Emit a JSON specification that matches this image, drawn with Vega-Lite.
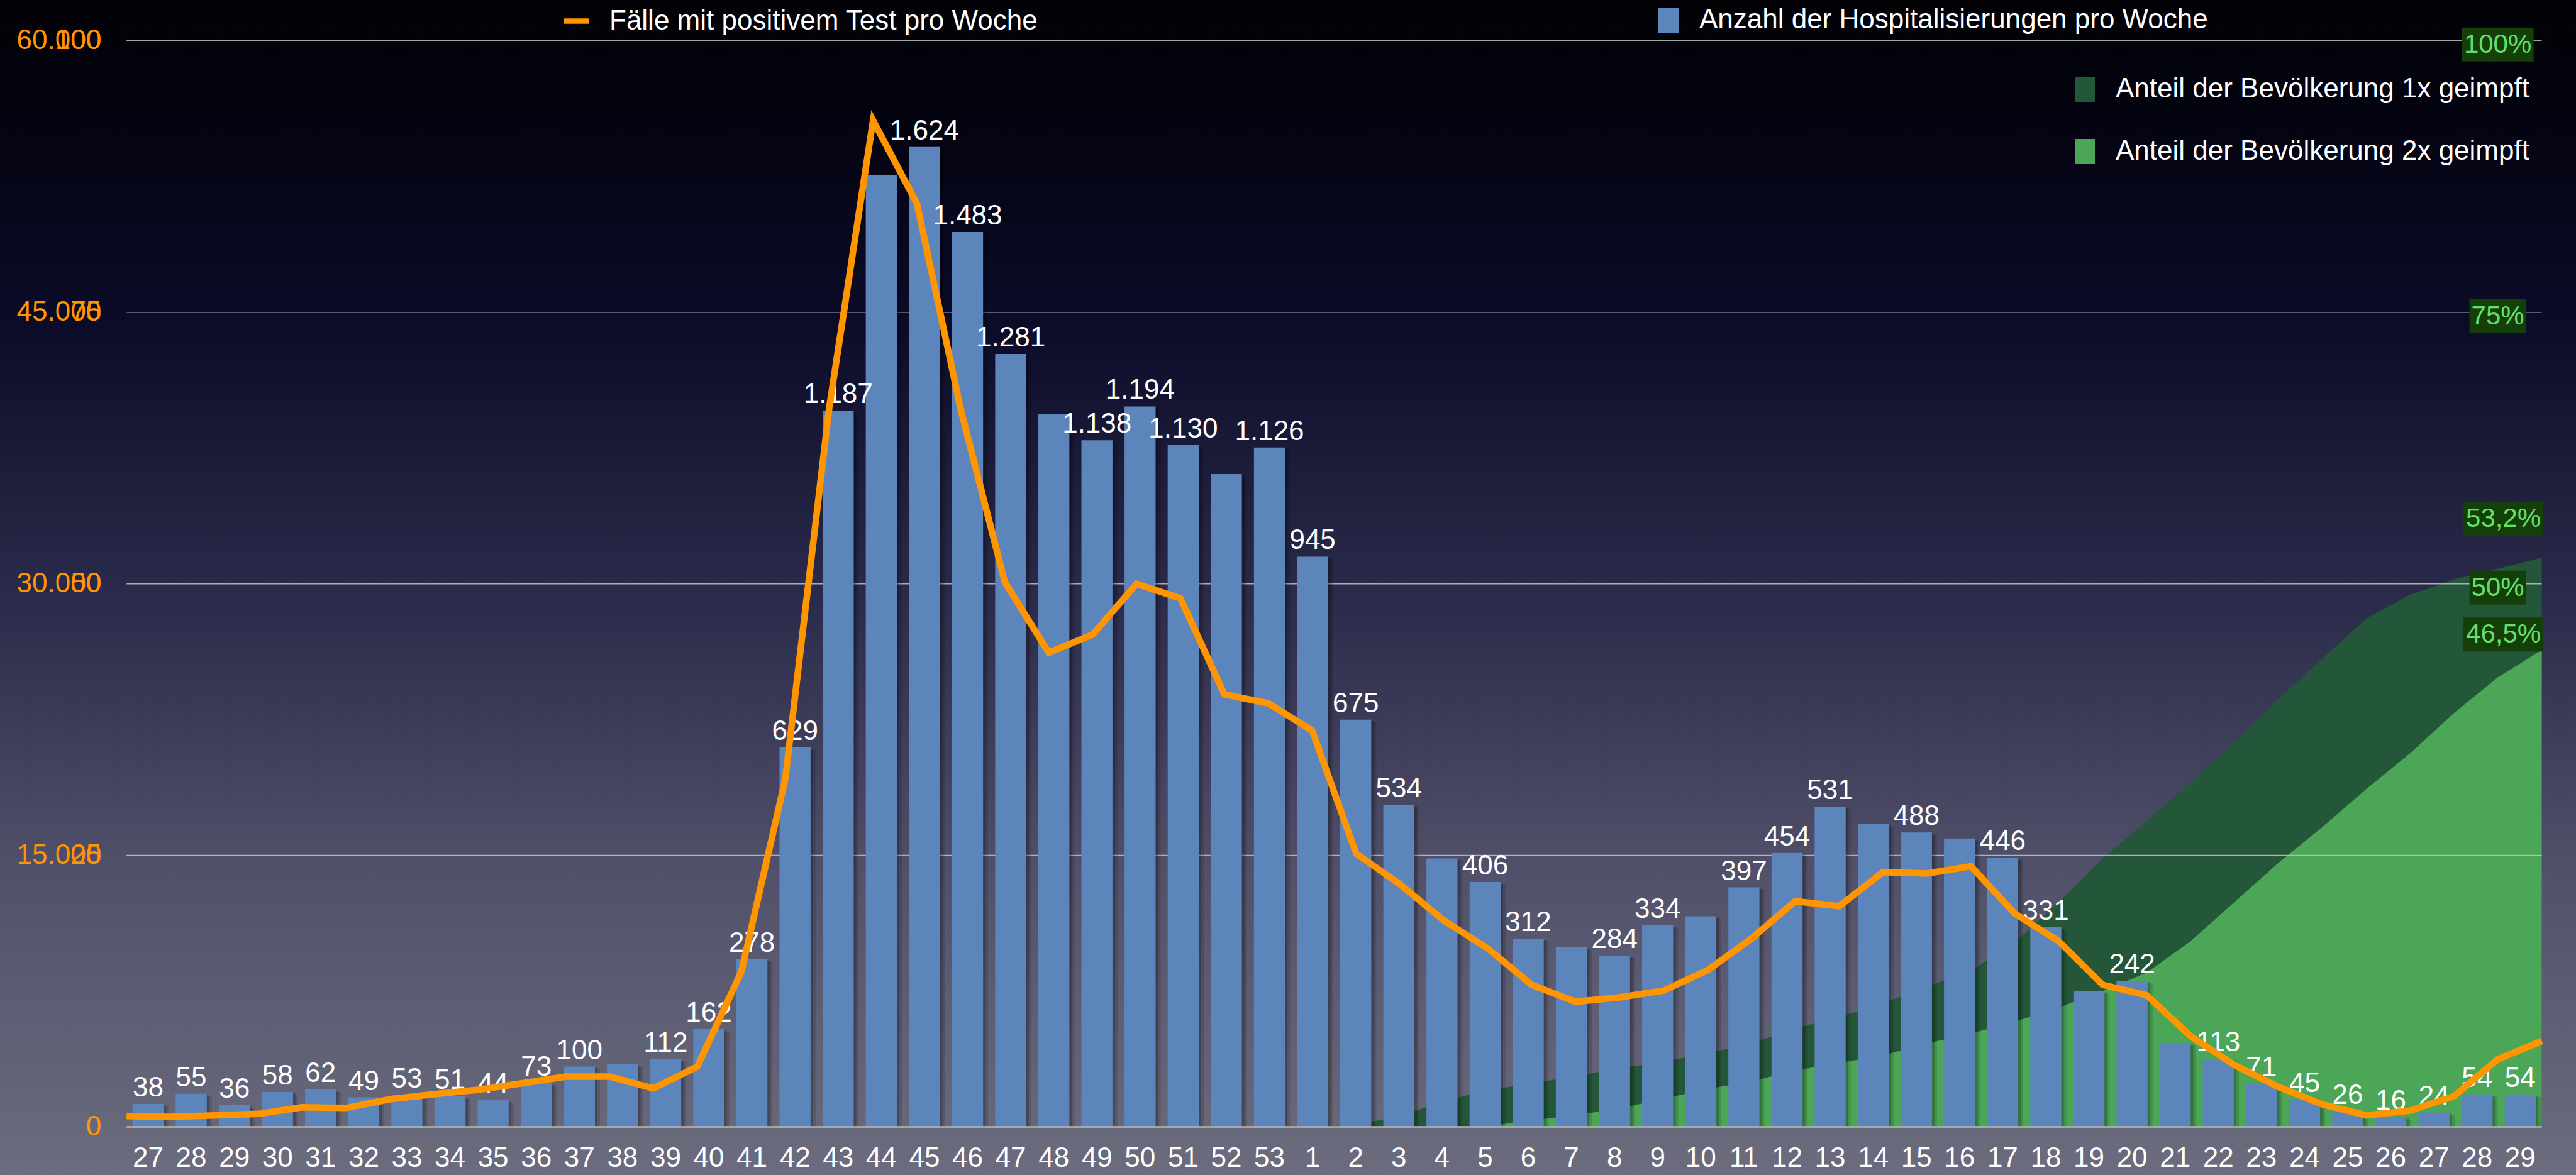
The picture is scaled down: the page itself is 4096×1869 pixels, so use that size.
{
  "$schema": "https://vega.github.io/schema/vega-lite/v6.json",
  "width": 4096,
  "height": 1869,
  "padding": 0,
  "autosize": {"type": "none"},
  "background": "#000000",
  "config": {
    "font": "Liberation Sans",
    "view": {"stroke": null},
    "locale": {"number": {"decimal": ",", "thousands": ".", "grouping": [3], "currency": ["", " €"]}}
  },
  "datasets": {
    "wochen": [
      {"id": "20-27", "hosp": 38, "faelle": 600, "erst": 0, "zweit": 0},
      {"id": "20-28", "hosp": 55, "faelle": 560, "erst": 0, "zweit": 0},
      {"id": "20-29", "hosp": 36, "faelle": 640, "erst": 0, "zweit": 0},
      {"id": "20-30", "hosp": 58, "faelle": 720, "erst": 0, "zweit": 0},
      {"id": "20-31", "hosp": 62, "faelle": 1090, "erst": 0, "zweit": 0},
      {"id": "20-32", "hosp": 49, "faelle": 1050, "erst": 0, "zweit": 0},
      {"id": "20-33", "hosp": 53, "faelle": 1530, "erst": 0, "zweit": 0},
      {"id": "20-34", "hosp": 51, "faelle": 1810, "erst": 0, "zweit": 0},
      {"id": "20-35", "hosp": 44, "faelle": 2050, "erst": 0, "zweit": 0},
      {"id": "20-36", "hosp": 73, "faelle": 2410, "erst": 0, "zweit": 0},
      {"id": "20-37", "hosp": 100, "faelle": 2780, "erst": 0, "zweit": 0},
      {"id": "20-38", "hosp": 104, "faelle": 2780, "erst": 0, "zweit": 0},
      {"id": "20-39", "hosp": 112, "faelle": 2130, "erst": 0, "zweit": 0},
      {"id": "20-40", "hosp": 162, "faelle": 3340, "erst": 0, "zweit": 0},
      {"id": "20-41", "hosp": 278, "faelle": 8570, "erst": 0, "zweit": 0},
      {"id": "20-42", "hosp": 629, "faelle": 19200, "erst": 0, "zweit": 0},
      {"id": "20-43", "hosp": 1187, "faelle": 39700, "erst": 0, "zweit": 0},
      {"id": "20-44", "hosp": 1577, "faelle": 55600, "erst": 0, "zweit": 0},
      {"id": "20-45", "hosp": 1624, "faelle": 51000, "erst": 0, "zweit": 0},
      {"id": "20-46", "hosp": 1483, "faelle": 39600, "erst": 0, "zweit": 0},
      {"id": "20-47", "hosp": 1281, "faelle": 30100, "erst": 0, "zweit": 0},
      {"id": "20-48", "hosp": 1182, "faelle": 26200, "erst": 0, "zweit": 0},
      {"id": "20-49", "hosp": 1138, "faelle": 27200, "erst": 0, "zweit": 0},
      {"id": "20-50", "hosp": 1194, "faelle": 30000, "erst": 0, "zweit": 0},
      {"id": "20-51", "hosp": 1130, "faelle": 29200, "erst": 0, "zweit": 0},
      {"id": "20-52", "hosp": 1082, "faelle": 23900, "erst": 0, "zweit": 0},
      {"id": "20-53", "hosp": 1126, "faelle": 23400, "erst": 0, "zweit": 0},
      {"id": "21-01", "hosp": 945, "faelle": 21900, "erst": 0, "zweit": 0},
      {"id": "21-02", "hosp": 675, "faelle": 15100, "erst": 0.2, "zweit": 0},
      {"id": "21-03", "hosp": 534, "faelle": 13400, "erst": 1.0, "zweit": 0},
      {"id": "21-04", "hosp": 445, "faelle": 11400, "erst": 2.4, "zweit": 0},
      {"id": "21-05", "hosp": 406, "faelle": 9860, "erst": 3.4, "zweit": 0.1},
      {"id": "21-06", "hosp": 312, "faelle": 7850, "erst": 4.0, "zweit": 0.6},
      {"id": "21-07", "hosp": 298, "faelle": 6920, "erst": 4.7, "zweit": 1.1},
      {"id": "21-08", "hosp": 284, "faelle": 7160, "erst": 5.4, "zweit": 1.7},
      {"id": "21-09", "hosp": 334, "faelle": 7530, "erst": 6.0, "zweit": 2.6},
      {"id": "21-10", "hosp": 349, "faelle": 8650, "erst": 6.8, "zweit": 3.5},
      {"id": "21-11", "hosp": 397, "faelle": 10400, "erst": 7.7, "zweit": 4.2},
      {"id": "21-12", "hosp": 454, "faelle": 12470, "erst": 9.1, "zweit": 5.2},
      {"id": "21-13", "hosp": 531, "faelle": 12190, "erst": 10.1, "zweit": 5.9},
      {"id": "21-14", "hosp": 502, "faelle": 14080, "erst": 11.4, "zweit": 6.6},
      {"id": "21-15", "hosp": 488, "faelle": 14000, "erst": 12.9, "zweit": 7.7},
      {"id": "21-16", "hosp": 478, "faelle": 14400, "erst": 14.4, "zweit": 8.6},
      {"id": "21-17", "hosp": 446, "faelle": 11790, "erst": 17.0, "zweit": 9.7},
      {"id": "21-18", "hosp": 331, "faelle": 10260, "erst": 20.7, "zweit": 11.0},
      {"id": "21-19", "hosp": 225, "faelle": 7850, "erst": 24.7, "zweit": 12.5},
      {"id": "21-20", "hosp": 242, "faelle": 7280, "erst": 28.2, "zweit": 14.2},
      {"id": "21-21", "hosp": 139, "faelle": 5030, "erst": 31.7, "zweit": 17.1},
      {"id": "21-22", "hosp": 113, "faelle": 3420, "erst": 35.4, "zweit": 20.7},
      {"id": "21-23", "hosp": 71, "faelle": 2210, "erst": 39.4, "zweit": 24.3},
      {"id": "21-24", "hosp": 45, "faelle": 1250, "erst": 43.1, "zweit": 27.6},
      {"id": "21-25", "hosp": 26, "faelle": 640, "erst": 46.8, "zweit": 31.1},
      {"id": "21-26", "hosp": 16, "faelle": 900, "erst": 49.0, "zweit": 34.4},
      {"id": "21-27", "hosp": 24, "faelle": 1700, "erst": 50.4, "zweit": 38.1},
      {"id": "21-28", "hosp": 54, "faelle": 3740, "erst": 51.4, "zweit": 41.4},
      {"id": "21-29", "hosp": 54, "faelle": 4750, "erst": 52.4, "zweit": 43.9}
    ],
    "marken": [
      {"wert": 100, "label": "100%", "art": "achse"},
      {"wert": 75, "label": "75%", "art": "achse"},
      {"wert": 50, "label": "50%", "art": "achse"},
      {"wert": 53.2, "label": "53,2%", "art": "erst"},
      {"wert": 46.5, "label": "46,5%", "art": "zweit"}
    ]
  },
  "resolve": {"scale": {"x": "independent", "y": "independent", "color": "independent", "shape": "independent"}},
  "layer": [
    {
      "data": {"values": [{}]},
      "mark": {
        "type": "rect",
        "color": {
          "gradient": "linear", "x1": 0, "y1": 0, "x2": 0, "y2": 1,
          "stops": [
            {"offset": 0, "color": "#020206"},
            {"offset": 0.1, "color": "#030310"},
            {"offset": 0.28, "color": "#0c0c2a"},
            {"offset": 0.52, "color": "#2c2c4c"},
            {"offset": 0.744, "color": "#51516b"},
            {"offset": 1, "color": "#6c6c7e"}
          ]
        }
      },
      "encoding": {}
    },
    {
      "data": {"name": "wochen"},
      "layer": [
        {
          "mark": {"type": "area", "opacity": 1},
          "encoding": {
            "x": {"field": "id", "type": "ordinal", "scale": {"type": "point", "padding": 0, "range": [201.2, 4041.6], "round": false}, "axis": null},
            "y": {"field": "erst", "type": "quantitative", "scale": {"domain": [-4.42, 103.75], "nice": false, "zero": false}, "axis": null},
            "y2": {"datum": 0},
            "color": {"datum": "Anteil der Bevölkerung 1x geimpft", "type": "nominal",
              "scale": {"domain": ["Anteil der Bevölkerung 1x geimpft", "Anteil der Bevölkerung 2x geimpft"], "range": ["#245739", "#4ba757"]},
              "legend": {"orient": "none", "legendX": 3293, "legendY": 120, "title": null, "direction": "vertical", "symbolType": "M-0.8,-1H0.8V1H-0.8Z", "symbolSize": 1600, "symbolStrokeWidth": 0, "symbolOpacity": 1, "labelFontSize": 44, "labelColor": "#ffffff", "labelLimit": 2000, "labelOffset": 27, "rowPadding": 55, "padding": 0, "zindex": 1}}
          }
        },
        {
          "mark": {"type": "area", "opacity": 1},
          "encoding": {
            "x": {"field": "id", "type": "ordinal", "axis": null},
            "y": {"field": "zweit", "type": "quantitative", "axis": null},
            "y2": {"datum": 0},
            "color": {"datum": "Anteil der Bevölkerung 2x geimpft", "type": "nominal"}
          }
        },
        {
          "data": {"values": [{"wert": 25}, {"wert": 50}, {"wert": 75}, {"wert": 100}]},
          "mark": {"type": "rule", "color": "#c4c4c4", "strokeWidth": 1.6, "opacity": 0.85},
          "encoding": {
            "x": {"datum": "20-27", "type": "ordinal", "axis": null},
            "x2": {"datum": "21-29"},
            "y": {"field": "wert", "type": "quantitative", "axis": null}
          }
        },
        {
          "data": {"values": [{"wert": 25}, {"wert": 50}, {"wert": 75}, {"wert": 100}]},
          "mark": {"type": "text", "color": "#ff9500", "fontSize": 44, "align": "right", "baseline": "middle", "xOffset": -40},
          "encoding": {
            "x": {"datum": "20-27", "type": "ordinal", "axis": null},
            "y": {"field": "wert", "type": "quantitative", "axis": null},
            "text": {"field": "wert", "type": "quantitative", "format": "d"}
          }
        },
        {
          "data": {"name": "marken"},
          "transform": [{"filter": "datum.art === 'achse'"}],
          "mark": {"type": "point", "filled": true, "color": "#143f08", "opacity": 1, "size": 2916, "strokeWidth": 0, "xOffset": -70, "yOffset": 6},
          "encoding": {
            "x": {"datum": "21-29", "type": "ordinal", "axis": null},
            "y": {"field": "wert", "type": "quantitative", "axis": null},
            "shape": {"field": "label", "type": "nominal", "legend": null,
              "scale": {"domain": ["100%", "75%", "50%", "53,2%", "46,5%"],
                "range": ["M-2.111,-1H2.111V1H-2.111Z", "M-1.667,-1H1.667V1H-1.667Z", "M-1.667,-1H1.667V1H-1.667Z", "M-2.352,-1H2.352V1H-2.352Z", "M-2.352,-1H2.352V1H-2.352Z"]}}
          }
        },
        {
          "data": {"name": "marken"},
          "transform": [{"filter": "datum.art === 'erst'"}],
          "mark": {"type": "point", "filled": true, "color": "#143f08", "opacity": 1, "size": 2916, "strokeWidth": 0, "xOffset": -61, "yOffset": -48},
          "encoding": {
            "x": {"datum": "21-29", "type": "ordinal", "axis": null},
            "y": {"field": "wert", "type": "quantitative", "axis": null},
            "shape": {"field": "label", "type": "nominal", "legend": null}
          }
        },
        {
          "data": {"name": "marken"},
          "transform": [{"filter": "datum.art === 'zweit'"}],
          "mark": {"type": "point", "filled": true, "color": "#143f08", "opacity": 1, "size": 2916, "strokeWidth": 0, "xOffset": -61, "yOffset": 20},
          "encoding": {
            "x": {"datum": "21-29", "type": "ordinal", "axis": null},
            "y": {"field": "wert", "type": "quantitative", "axis": null},
            "shape": {"field": "label", "type": "nominal", "legend": null}
          }
        },
        {
          "data": {"name": "marken"},
          "transform": [{"filter": "datum.art === 'achse'"}],
          "mark": {"type": "text", "color": "#63e06c", "fontSize": 42, "align": "center", "baseline": "middle", "xOffset": -70, "yOffset": 6},
          "encoding": {
            "x": {"datum": "21-29", "type": "ordinal", "axis": null},
            "y": {"field": "wert", "type": "quantitative", "axis": null},
            "text": {"field": "label", "type": "nominal"}
          }
        },
        {
          "data": {"name": "marken"},
          "transform": [{"filter": "datum.art === 'erst'"}],
          "mark": {"type": "text", "color": "#63e06c", "fontSize": 42, "align": "center", "baseline": "middle", "xOffset": -61, "yOffset": -48},
          "encoding": {
            "x": {"datum": "21-29", "type": "ordinal", "axis": null},
            "y": {"field": "wert", "type": "quantitative", "axis": null},
            "text": {"field": "label", "type": "nominal"}
          }
        },
        {
          "data": {"name": "marken"},
          "transform": [{"filter": "datum.art === 'zweit'"}],
          "mark": {"type": "text", "color": "#63e06c", "fontSize": 42, "align": "center", "baseline": "middle", "xOffset": -61, "yOffset": 20},
          "encoding": {
            "x": {"datum": "21-29", "type": "ordinal", "axis": null},
            "y": {"field": "wert", "type": "quantitative", "axis": null},
            "text": {"field": "label", "type": "nominal"}
          }
        }
      ]
    },
    {
      "data": {"name": "wochen"},
      "encoding": {
        "x": {"field": "id", "type": "ordinal",
          "scale": {"type": "band", "paddingInner": 0.28, "paddingOuter": 0.14, "range": [201.2, 4041.6], "round": false},
          "axis": {"orient": "bottom", "offset": -27, "title": null, "domain": false, "ticks": false, "tickSize": 0, "labelPadding": 0, "labelAngle": 0, "labelBaseline": "middle", "labelFontSize": 44, "labelColor": "#ffffff", "labelOverlap": false, "grid": false, "zindex": 1, "labelExpr": "toNumber(split(datum.value, '-')[1])"}},
        "y": {"field": "hosp", "type": "quantitative", "scale": {"domain": [-79.6, 1867.5], "nice": false, "zero": false}, "axis": null}
      },
      "layer": [
        {"mark": {"type": "bar", "color": "#000000", "opacity": 0.13, "xOffset": 8, "yOffset": 4}, "encoding": {"y2": {"datum": 0}}},
        {"mark": {"type": "bar", "color": "#000000", "opacity": 0.2, "xOffset": 4, "yOffset": 2}, "encoding": {"y2": {"datum": 0}}},
        {
          "mark": {"type": "bar", "opacity": 1},
          "encoding": {
            "y2": {"datum": 0},
            "color": {"datum": "Anzahl der Hospitalisierungen pro Woche", "type": "nominal", "scale": {"range": ["#5c86bb"]},
              "legend": {"orient": "none", "legendX": 2631, "legendY": 10, "title": null, "symbolType": "M-0.8,-1H0.8V1H-0.8Z", "symbolSize": 1600, "symbolStrokeWidth": 0, "symbolOpacity": 1, "labelFontSize": 44, "labelColor": "#ffffff", "labelLimit": 2000, "labelOffset": 27, "padding": 0, "zindex": 1}}
          }
        },
        {
          "transform": [{"filter": {"not": {"field": "id", "oneOf": ["20-38", "20-44", "20-48", "20-52", "21-04", "21-07", "21-10", "21-14", "21-16", "21-19", "21-21"]}}}],
          "mark": {"type": "text", "color": "#ffffff", "fontSize": 44, "align": "center", "baseline": "alphabetic", "dy": -12},
          "encoding": {"text": {"field": "hosp", "type": "quantitative", "format": ",d"}}
        }
      ]
    },
    {
      "data": {"name": "wochen"},
      "layer": [
        {
          "data": {"values": [{}]},
          "mark": {"type": "rule", "color": "#b8b8b8", "strokeWidth": 2.5},
          "encoding": {
            "x": {"datum": "20-27", "type": "ordinal", "scale": {"type": "point", "padding": 0, "range": [201.2, 4041.6], "round": false}, "axis": null},
            "x2": {"datum": "21-29"},
            "y": {"datum": 0, "type": "quantitative", "scale": {"domain": [-2653, 62250], "nice": false, "zero": false}, "axis": null}
          }
        },
        {
          "data": {"values": [{"wert": 0}, {"wert": 15000}, {"wert": 30000}, {"wert": 45000}, {"wert": 60000}]},
          "mark": {"type": "text", "color": "#ff9500", "fontSize": 44, "align": "right", "baseline": "middle", "xOffset": -40},
          "encoding": {
            "x": {"datum": "20-27", "type": "ordinal", "axis": null},
            "y": {"field": "wert", "type": "quantitative", "axis": null},
            "text": {"field": "wert", "type": "quantitative", "format": ",d"}
          }
        },
        {
          "mark": {"type": "line", "strokeWidth": 10.5, "strokeJoin": "miter", "strokeCap": "butt"},
          "encoding": {
            "x": {"field": "id", "type": "ordinal", "axis": null},
            "y": {"field": "faelle", "type": "quantitative", "axis": null},
            "color": {"datum": "Fälle mit positivem Test pro Woche", "type": "nominal", "scale": {"range": ["#ff9500"]},
              "legend": {"orient": "none", "legendX": 892, "legendY": 9, "title": null, "symbolType": "stroke", "symbolSize": 1640, "symbolStrokeWidth": 8.4, "labelFontSize": 44, "labelColor": "#ffffff", "labelLimit": 2000, "labelOffset": 28, "padding": 0, "zindex": 1}}
          }
        }
      ]
    }
  ]
}
